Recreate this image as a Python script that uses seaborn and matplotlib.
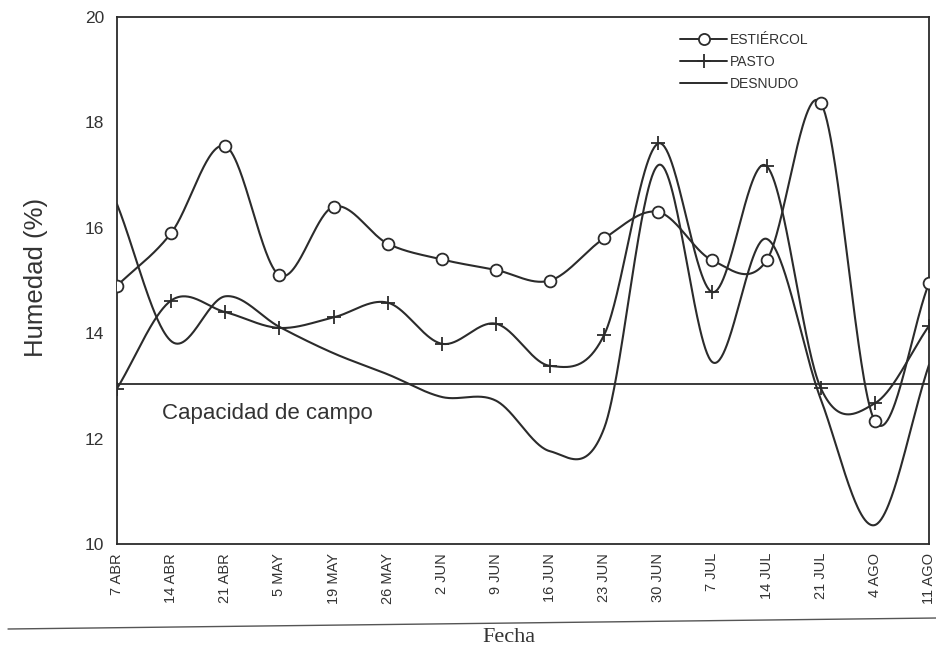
import numpy as np
import pandas as pd
import matplotlib
matplotlib.use("Agg")
import matplotlib.pyplot as plt
from matplotlib.lines import Line2D
import seaborn as sns

fechas = ["7 ABR", "14 ABR", "21 ABR", "5 MAY", "19 MAY", "26 MAY", "2 JUN", "9 JUN",
          "16 JUN", "23 JUN", "30 JUN", "7 JUL", "14 JUL", "21 JUL", "4 AGO", "11 AGO"]
estiercol = [14.9, 15.9, 17.55, 15.1, 16.4, 15.7, 15.4, 15.2, 15.0, 15.8, 16.3, 15.38, 15.38, 18.37, 12.33, 14.95]
pasto = [12.95, 14.62, 14.4, 14.1, 14.3, 14.58, 13.8, 14.18, 13.38, 13.97, 17.6, 14.78, 17.17, 12.96, 12.67, 14.14]
desnudo = [16.45, 13.85, 14.7, 14.12, 13.62, 13.22, 12.79, 12.72, 11.76, 12.2, 17.19, 13.45, 15.79, 12.75, 10.36, 13.4]
capacidad_campo = 13.03
yticks = [10, 12, 14, 16, 18, 20]

sns.set_theme(style="white")
plt.rcParams['font.family'] = ['Liberation Sans', 'DejaVu Sans']

col = "#2b2b2b"
tcol = "#333333"


def catmull_rom(y, n=60):
    """Smooth curve through the data points (display only)."""
    y = np.asarray(y, float)
    m = len(y)
    tang = np.zeros(m)
    tang[1:-1] = (y[2:] - y[:-2]) / 2
    tang[0] = y[1] - y[0]
    tang[-1] = y[-1] - y[-2]
    xs, ys = [], []
    for i in range(m - 1):
        t = np.linspace(0, 1, n, endpoint=(i == m - 2))
        h00 = 2 * t ** 3 - 3 * t ** 2 + 1
        h10 = t ** 3 - 2 * t ** 2 + t
        h01 = -2 * t ** 3 + 3 * t ** 2
        h11 = t ** 3 - t ** 2
        xs.append(i + t)
        ys.append(h00 * y[i] + h10 * tang[i] + h01 * y[i + 1] + h11 * tang[i + 1])
    return np.concatenate(xs), np.concatenate(ys)


fig = plt.figure(figsize=(9.37, 6.49), dpi=100)
ax = fig.add_axes([117 / 937, 1 - 544 / 649, (929 - 117) / 937, (544 - 17) / 649])

idx = np.arange(len(fechas))
for vals in [estiercol, pasto, desnudo]:
    xs, ys = catmull_rom(vals)
    sns.lineplot(x=xs, y=ys, ax=ax, color=col, lw=1.5, sort=False, estimator=None)

df_e = pd.DataFrame({"x": idx, "y": estiercol})
df_p = pd.DataFrame({"x": idx, "y": pasto})
ax.plot(df_e["x"], df_e["y"], ls="none", marker="o", ms=8.5, mfc="white", mec=col, mew=1.3, zorder=5)
ax.plot(df_p["x"], df_p["y"], ls="none", marker="+", ms=9.5, mec=col, mew=1.3, zorder=5)

ax.axhline(capacidad_campo, color=col, lw=1.3)
ax.text(0.83, 12.48, "Capacidad de campo", fontsize=16, color=tcol, va="center", ha="left")

ax.set_xlim(0, len(fechas) - 1)
ax.set_ylim(10, 20)
ax.set_xticks(idx)
ax.set_xticklabels(fechas, rotation=90, fontsize=10.5, color=tcol)
ax.set_yticks(yticks)
ax.set_yticklabels([str(v) for v in yticks], fontsize=12.5, color=tcol)
ax.tick_params(axis="x", direction="inout", length=7, width=1, color=col, pad=3)
ax.tick_params(axis="y", direction="out", length=4, width=1, color=col, pad=5)
for s in ax.spines.values():
    s.set_color(col)
    s.set_linewidth(1.3)
ax.set_ylabel("")
ax.set_xlabel("")
fig.text(36 / 937, 1 - 277 / 649, "Humedad (%)", fontsize=18.5, rotation=90,
         ha="center", va="center", color=tcol)

handles = [
    Line2D([], [], color=col, lw=1.4, marker="o", ms=8, mfc="white", mec=col, mew=1.3),
    Line2D([], [], color=col, lw=1.4, marker="+", ms=9.5, mec=col, mew=1.3),
    Line2D([], [], color=col, lw=1.4),
]
leg = ax.legend(handles, ["ESTIÉRCOL", "PASTO", "DESNUDO"], loc="upper left",
                bbox_to_anchor=((680 - 117) / 812, 1 - (33 - 17) / 527), frameon=False,
                fontsize=10, handlelength=3.4, handletextpad=0.2, labelspacing=0.58,
                borderaxespad=0, borderpad=0)
for t in leg.get_texts():
    t.set_color(tcol)

fig.add_artist(Line2D([8 / 937, 1.0], [1 - 629 / 649, 1 - 618 / 649], color="#555555", lw=1.0))
fig.text(509 / 937, 1 - 638 / 649, "Fecha", fontsize=16, family=["Liberation Serif", "DejaVu Serif"],
         ha="center", va="center", color=tcol)

fig.savefig("out.png", dpi=100, facecolor="white")
